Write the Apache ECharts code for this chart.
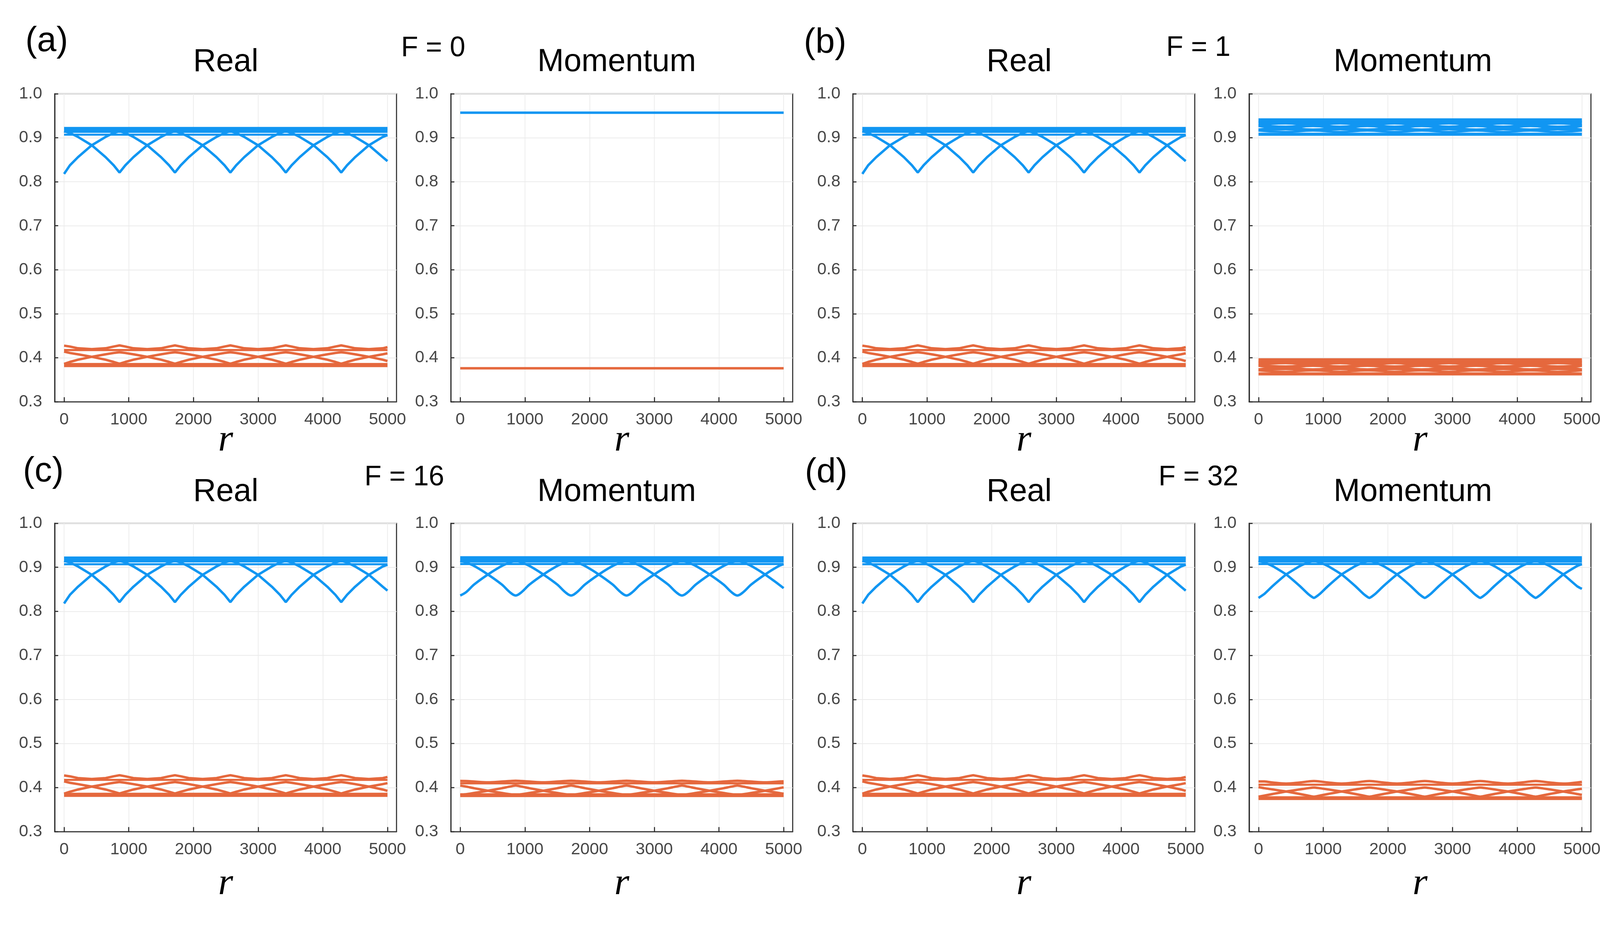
<!DOCTYPE html>
<html>
<head>
<meta charset="utf-8">
<script src="https://cdn.jsdelivr.net/npm/echarts@6.0.0/dist/echarts.min.js"></script>
<style>
html, body { margin: 0; padding: 0; background: #fff; overflow: hidden; }
#chart { width: 100vw; height: 100vh; }
</style>
</head>
<body>
<div id="chart"></div>
<script>
// shared x positions: zigzag curves (cusps every ~857), lens waves (every ~421)
var zigX = [0, 90, 215, 428, 642, 767, 857, 947, 1072, 1285, 1499, 1624, 1714, 1804, 1929, 2142, 2356, 2481, 2571,
    2661, 2786, 2999, 3213, 3338, 3428, 3518, 3643, 3856, 4070, 4195, 4285, 4375, 4500, 4713, 4927, 5000];
var waveX = [0, 421, 841, 1262, 1682, 2103, 2523, 2944, 3364, 3785, 4205, 4626, 5000];
var xTicks = [0, 1000, 2000, 3000, 4000, 5000];

// Real (same in all four cases)
var realBlueA = [0.818, 0.8375, 0.856, 0.883, 0.902, 0.911, 0.915,
    0.911, 0.902, 0.883, 0.856, 0.8375, 0.821,
    0.8375, 0.856, 0.883, 0.902, 0.911, 0.915,
    0.911, 0.902, 0.883, 0.856, 0.8375, 0.821,
    0.8375, 0.856, 0.883, 0.902, 0.911, 0.915,
    0.911, 0.902, 0.883, 0.856, 0.847];
var realBlueB = [0.915, 0.911, 0.902, 0.883, 0.856, 0.8375, 0.821,
    0.8375, 0.856, 0.883, 0.902, 0.911, 0.915,
    0.911, 0.902, 0.883, 0.856, 0.8375, 0.821,
    0.8375, 0.856, 0.883, 0.902, 0.911, 0.915,
    0.911, 0.902, 0.883, 0.856, 0.8375, 0.821,
    0.8375, 0.856, 0.883, 0.902, 0.906];
var realBlueFlat = [0.9215, 0.918, 0.9135, 0.907];
var realOrangeA = [0.414, 0.4108, 0.4078, 0.4022, 0.3955, 0.3905, 0.3865,
    0.3905, 0.3955, 0.4022, 0.4078, 0.4108, 0.4125,
    0.4108, 0.4078, 0.4022, 0.3955, 0.3905, 0.3865,
    0.3905, 0.3955, 0.4022, 0.4078, 0.4108, 0.4125,
    0.4108, 0.4078, 0.4022, 0.3955, 0.3905, 0.3865,
    0.3905, 0.3955, 0.4022, 0.4078, 0.410];
var realOrangeB = [0.386, 0.3905, 0.3955, 0.4022, 0.4078, 0.4108, 0.4125,
    0.4108, 0.4078, 0.4022, 0.3955, 0.3905, 0.3865,
    0.3905, 0.3955, 0.4022, 0.4078, 0.4108, 0.4125,
    0.4108, 0.4078, 0.4022, 0.3955, 0.3905, 0.3865,
    0.3905, 0.3955, 0.4022, 0.4078, 0.4108, 0.4125,
    0.4108, 0.4078, 0.4022, 0.3955, 0.3925];
var realOrangeArc = [0.4275, 0.4255, 0.4215, 0.4195, 0.4215, 0.4255, 0.428,
    0.4255, 0.4215, 0.4195, 0.4215, 0.4255, 0.428,
    0.4255, 0.4215, 0.4195, 0.4215, 0.4255, 0.428,
    0.4255, 0.4215, 0.4195, 0.4215, 0.4255, 0.428,
    0.4255, 0.4215, 0.4195, 0.4215, 0.4255, 0.428,
    0.4255, 0.4215, 0.4195, 0.4215, 0.424];
var realOrangeFlat = [0.4175, 0.3855, 0.3815];

// Momentum, F = 0
var momABlue = [0.957];
var momAOrange = [0.376];

// Momentum, F = 1 (waves on waveX)
var momBBlueFlat = [0.9402, 0.908];
var momBBlueWaves = [
    [0.9375, 0.9352, 0.9375, 0.9352, 0.9375, 0.9352, 0.9375, 0.9352, 0.9375, 0.9352, 0.9375, 0.9352, 0.9375],
    [0.9330, 0.9352, 0.9330, 0.9352, 0.9330, 0.9352, 0.9330, 0.9352, 0.9330, 0.9352, 0.9330, 0.9352, 0.9330],
    [0.9290, 0.9325, 0.9290, 0.9325, 0.9290, 0.9325, 0.9290, 0.9325, 0.9290, 0.9325, 0.9290, 0.9325, 0.9290],
    [0.9290, 0.9255, 0.9290, 0.9255, 0.9290, 0.9255, 0.9290, 0.9255, 0.9290, 0.9255, 0.9290, 0.9255, 0.9290],
    [0.9265, 0.9228, 0.9265, 0.9228, 0.9265, 0.9228, 0.9265, 0.9228, 0.9265, 0.9228, 0.9265, 0.9228, 0.9265],
    [0.9190, 0.9228, 0.9190, 0.9228, 0.9190, 0.9228, 0.9190, 0.9228, 0.9190, 0.9228, 0.9190, 0.9228, 0.9190],
    [0.9162, 0.9192, 0.9162, 0.9192, 0.9162, 0.9192, 0.9162, 0.9192, 0.9162, 0.9192, 0.9162, 0.9192, 0.9162],
    [0.9162, 0.9133, 0.9162, 0.9133, 0.9162, 0.9133, 0.9162, 0.9133, 0.9162, 0.9133, 0.9162, 0.9133, 0.9162]
];
var momBOrangeFlat = [0.3948, 0.3632];
var momBOrangeWaves = [
    [0.3915, 0.3895, 0.3915, 0.3895, 0.3915, 0.3895, 0.3915, 0.3895, 0.3915, 0.3895, 0.3915, 0.3895, 0.3915],
    [0.3875, 0.3895, 0.3875, 0.3895, 0.3875, 0.3895, 0.3875, 0.3895, 0.3875, 0.3895, 0.3875, 0.3895, 0.3875],
    [0.3840, 0.3875, 0.3840, 0.3875, 0.3840, 0.3875, 0.3840, 0.3875, 0.3840, 0.3875, 0.3840, 0.3875, 0.3840],
    [0.3840, 0.3805, 0.3840, 0.3805, 0.3840, 0.3805, 0.3840, 0.3805, 0.3840, 0.3805, 0.3840, 0.3805, 0.3840],
    [0.3815, 0.3777, 0.3815, 0.3777, 0.3815, 0.3777, 0.3815, 0.3777, 0.3815, 0.3777, 0.3815, 0.3777, 0.3815],
    [0.3738, 0.3777, 0.3738, 0.3777, 0.3738, 0.3777, 0.3738, 0.3777, 0.3738, 0.3777, 0.3738, 0.3777, 0.3738],
    [0.3710, 0.3740, 0.3710, 0.3740, 0.3710, 0.3740, 0.3710, 0.3740, 0.3710, 0.3740, 0.3710, 0.3740, 0.3710],
    [0.3710, 0.3682, 0.3710, 0.3682, 0.3710, 0.3682, 0.3710, 0.3682, 0.3710, 0.3682, 0.3710, 0.3682, 0.3710]
];

// Momentum, F = 16
var momCBlueA = [0.836, 0.8435, 0.861, 0.8837, 0.903, 0.911, 0.915,
    0.911, 0.903, 0.8837, 0.861, 0.8435, 0.836,
    0.8435, 0.861, 0.8837, 0.903, 0.911, 0.915,
    0.911, 0.903, 0.8837, 0.861, 0.8435, 0.836,
    0.8435, 0.861, 0.8837, 0.903, 0.911, 0.915,
    0.911, 0.903, 0.8837, 0.861, 0.8527];
var momCBlueB = [0.915, 0.911, 0.903, 0.8837, 0.861, 0.8435, 0.836,
    0.8435, 0.861, 0.8837, 0.903, 0.911, 0.915,
    0.911, 0.903, 0.8837, 0.861, 0.8435, 0.836,
    0.8435, 0.861, 0.8837, 0.903, 0.911, 0.915,
    0.911, 0.903, 0.8837, 0.861, 0.8435, 0.836,
    0.8435, 0.861, 0.8837, 0.903, 0.907];
var momCBlueFlat = [0.922, 0.918, 0.9133, 0.9075];
var momCOrangeA = [0.4045, 0.4022, 0.3985, 0.3928, 0.3877, 0.3848, 0.383,
    0.3848, 0.3877, 0.3928, 0.3985, 0.4022, 0.4045,
    0.4022, 0.3985, 0.3928, 0.3877, 0.3848, 0.383,
    0.3848, 0.3877, 0.3928, 0.3985, 0.4022, 0.4045,
    0.4022, 0.3985, 0.3928, 0.3877, 0.3848, 0.383,
    0.3848, 0.3877, 0.3928, 0.3985, 0.4005];
var momCOrangeB = [0.383, 0.3848, 0.3877, 0.3928, 0.3985, 0.4022, 0.4045,
    0.4022, 0.3985, 0.3928, 0.3877, 0.3848, 0.383,
    0.3848, 0.3877, 0.3928, 0.3985, 0.4022, 0.4045,
    0.4022, 0.3985, 0.3928, 0.3877, 0.3848, 0.383,
    0.3848, 0.3877, 0.3928, 0.3985, 0.4022, 0.4045,
    0.4022, 0.3985, 0.3928, 0.3877, 0.386];
var momCOrangeArc = [0.4150, 0.4148, 0.4136, 0.4118, 0.4136, 0.4148, 0.4154,
    0.4148, 0.4136, 0.4118, 0.4136, 0.4148, 0.4154,
    0.4148, 0.4136, 0.4118, 0.4136, 0.4148, 0.4154,
    0.4148, 0.4136, 0.4118, 0.4136, 0.4148, 0.4154,
    0.4148, 0.4136, 0.4118, 0.4136, 0.4148, 0.4154,
    0.4148, 0.4136, 0.4118, 0.4136, 0.4142];
var momCOrangeFlat = [0.4096, 0.3845, 0.381];

// Momentum, F = 32
var momDBlueA = [0.8305, 0.8395, 0.857, 0.8837, 0.903, 0.911, 0.915,
    0.911, 0.903, 0.8837, 0.857, 0.8395, 0.8305,
    0.8395, 0.857, 0.8837, 0.903, 0.911, 0.915,
    0.911, 0.903, 0.8837, 0.857, 0.8395, 0.8305,
    0.8395, 0.857, 0.8837, 0.903, 0.911, 0.915,
    0.911, 0.903, 0.8837, 0.857, 0.8512];
var momDBlueB = [0.915, 0.911, 0.903, 0.8837, 0.857, 0.8395, 0.8305,
    0.8395, 0.857, 0.8837, 0.903, 0.911, 0.915,
    0.911, 0.903, 0.8837, 0.857, 0.8395, 0.8305,
    0.8395, 0.857, 0.8837, 0.903, 0.911, 0.915,
    0.911, 0.903, 0.8837, 0.857, 0.8395, 0.8305,
    0.8395, 0.857, 0.8837, 0.903, 0.907];
var momDBlueFlat = [0.922, 0.918, 0.9133, 0.9075];
var momDOrangeA = [0.401, 0.3985, 0.3958, 0.3911, 0.3853, 0.3817, 0.3793,
    0.3817, 0.3853, 0.3911, 0.3958, 0.3985, 0.400,
    0.3985, 0.3958, 0.3911, 0.3853, 0.3817, 0.3793,
    0.3817, 0.3853, 0.3911, 0.3958, 0.3985, 0.400,
    0.3985, 0.3958, 0.3911, 0.3853, 0.3817, 0.3793,
    0.3817, 0.3853, 0.3911, 0.3958, 0.3972];
var momDOrangeB = [0.3793, 0.3817, 0.3853, 0.3911, 0.3958, 0.3985, 0.400,
    0.3985, 0.3958, 0.3911, 0.3853, 0.3817, 0.3793,
    0.3817, 0.3853, 0.3911, 0.3958, 0.3985, 0.400,
    0.3985, 0.3958, 0.3911, 0.3853, 0.3817, 0.3793,
    0.3817, 0.3853, 0.3911, 0.3958, 0.3985, 0.400,
    0.3985, 0.3958, 0.3911, 0.3853, 0.3835];
var momDOrangeArc = [0.4140, 0.4138, 0.4115, 0.409, 0.4115, 0.4138, 0.4148,
    0.4138, 0.4115, 0.409, 0.4115, 0.4138, 0.4148,
    0.4138, 0.4115, 0.409, 0.4115, 0.4138, 0.4148,
    0.4138, 0.4115, 0.409, 0.4115, 0.4138, 0.4148,
    0.4138, 0.4115, 0.409, 0.4115, 0.4138, 0.4148,
    0.4138, 0.4115, 0.409, 0.4115, 0.4128];
var momDOrangeFlat = [0.4065, 0.3775, 0.3745];

// labels
var panelTitles = ['Real', 'Momentum', 'Real', 'Momentum', 'Real', 'Momentum', 'Real', 'Momentum'];
var caseLetters = ['(a)', '(b)', '(c)', '(d)'];
var caseF = ['F = 0', 'F = 1', 'F = 16', 'F = 32'];

// layout, in pixels of the 4592 x 2367 reference; scaled to the real page size
var dom = document.getElementById('chart');
var kx = dom.clientWidth / 4592;
var ky = dom.clientHeight / 2367;
var k = Math.min(kx, ky);
function X(v) { return v * kx; }
function Y(v) { return v * ky; }
function S(v) { return v * k; }

var colLeft = [157, 1294, 2448, 3585];
var rowTop = [240, 1339];
var gridW = 981;
var gridH = [788, 789];
var rNameGap = [50, 85];
var titleX = [648, 1770, 2925, 4055];
var titleY = [160, 1260];
var letterPos = [[73, 106], [2307, 110], [66, 1207], [2310, 1210]];
var fPos = [[1151, 124], [3347, 123], [1046, 1222], [3325, 1222]];

var BLUE = '#1196f2';
var ORANGE = '#e5683d';
var AXIS = '#2b2b2b';
var LABEL = '#474747';
var SANS = '"Liberation Sans", Arial, sans-serif';

function pairs(xs, ys) {
    return xs.map(function (x, i) { return [x, ys[i]]; });
}
function flat(v) {
    return [[0, v], [5000, v]];
}

var series = [];
function addLine(p, data, color, width, smooth) {
    series.push({
        type: 'line',
        xAxisIndex: p,
        yAxisIndex: p,
        data: data,
        symbol: 'none',
        showSymbol: false,
        smooth: smooth || false,
        silent: true,
        lineStyle: {color: color, width: S(width)},
        itemStyle: {color: color}
    });
}

function addFlats(p, levels, color, topWidth, width) {
    levels.forEach(function (v, i) {
        addLine(p, flat(v), color, i === 0 ? topWidth : width);
    });
}

// Real panels
[0, 2, 4, 6].forEach(function (p) {
    addFlats(p, realBlueFlat, BLUE, 8, 6);
    addLine(p, pairs(zigX, realBlueA), BLUE, 7);
    addLine(p, pairs(zigX, realBlueB), BLUE, 7);
    addFlats(p, realOrangeFlat, ORANGE, 6, 7);
    addLine(p, pairs(zigX, realOrangeArc), ORANGE, 7);
    addLine(p, pairs(zigX, realOrangeA), ORANGE, 7);
    addLine(p, pairs(zigX, realOrangeB), ORANGE, 7);
});

// Momentum F = 0
addLine(1, flat(momABlue[0]), BLUE, 7);
addLine(1, flat(momAOrange[0]), ORANGE, 7);

// Momentum F = 1
addFlats(3, momBBlueFlat, BLUE, 10, 9);
momBBlueWaves.forEach(function (w) { addLine(3, pairs(waveX, w), BLUE, 6, 0.5); });
addFlats(3, momBOrangeFlat, ORANGE, 10, 9);
momBOrangeWaves.forEach(function (w) { addLine(3, pairs(waveX, w), ORANGE, 6, 0.5); });

// Momentum F = 16
addFlats(5, momCBlueFlat, BLUE, 8, 6);
addLine(5, pairs(zigX, momCBlueA), BLUE, 7, 0.35);
addLine(5, pairs(zigX, momCBlueB), BLUE, 7, 0.35);
addFlats(5, momCOrangeFlat, ORANGE, 6, 7);
addLine(5, pairs(zigX, momCOrangeArc), ORANGE, 7, 0.4);
addLine(5, pairs(zigX, momCOrangeA), ORANGE, 7, 0.3);
addLine(5, pairs(zigX, momCOrangeB), ORANGE, 7, 0.3);

// Momentum F = 32
addFlats(7, momDBlueFlat, BLUE, 8, 6);
addLine(7, pairs(zigX, momDBlueA), BLUE, 7, 0.15);
addLine(7, pairs(zigX, momDBlueB), BLUE, 7, 0.15);
addFlats(7, momDOrangeFlat, ORANGE, 6, 7);
addLine(7, pairs(zigX, momDOrangeArc), ORANGE, 7, 0.4);
addLine(7, pairs(zigX, momDOrangeA), ORANGE, 7, 0.3);
addLine(7, pairs(zigX, momDOrangeB), ORANGE, 7, 0.3);

var grids = [], xAxes = [], yAxes = [], texts = [];
for (var i = 0; i < 8; i++) {
    var row = Math.floor(i / 4), col = i % 4;
    grids.push({
        left: X(colLeft[col]), top: Y(rowTop[row]), width: X(gridW), height: Y(gridH[row]),
        show: true, borderColor: AXIS, borderWidth: S(3), outerBoundsMode: 'none'
    });
    xAxes.push({
        gridIndex: i,
        type: 'value',
        min: -145,
        max: 5140,
        name: 'r',
        nameLocation: 'middle',
        nameGap: Y(rNameGap[row]),
        nameMoveOverlap: false,
        nameTextStyle: {fontFamily: '"Liberation Serif", serif', fontStyle: 'italic', fontSize: S(110), color: '#000'},
        axisLine: {show: true, onZero: false, lineStyle: {color: AXIS, width: S(3)}},
        axisTick: {show: true, inside: true, length: S(13), customValues: xTicks, lineStyle: {color: AXIS, width: S(3)}},
        axisLabel: {
            customValues: xTicks, fontSize: S(48), fontFamily: SANS, color: LABEL, margin: S(28),
            formatter: function (v) { return String(v); }
        },
        splitLine: {show: true, lineStyle: {color: '#ebebeb', width: S(2)}}
    });
    yAxes.push({
        gridIndex: i,
        type: 'value',
        min: 0.3,
        max: 1.0,
        interval: 0.1,
        axisLine: {show: true, onZero: false, lineStyle: {color: AXIS, width: S(3)}},
        axisTick: {show: true, inside: true, length: S(10), lineStyle: {color: AXIS, width: S(3)}},
        axisLabel: {
            fontSize: S(48), fontFamily: SANS, color: LABEL, margin: S(36),
            formatter: function (v) { return v.toFixed(1); }
        },
        splitLine: {show: true, lineStyle: {color: '#ebebeb', width: S(2)}}
    });
    texts.push({
        type: 'text', x: X(titleX[col]), y: Y(titleY[row]), silent: true,
        style: {
            text: panelTitles[i], font: 'normal ' + S(91) + 'px ' + SANS, fill: '#000',
            align: 'center', verticalAlign: 'middle', textAlign: 'center', textVerticalAlign: 'middle'
        }
    });
}
for (var c = 0; c < 4; c++) {
    texts.push({
        type: 'text', x: X(letterPos[c][0]), y: Y(letterPos[c][1]), silent: true,
        style: {
            text: caseLetters[c], font: 'normal ' + S(100) + 'px ' + SANS, fill: '#000',
            align: 'left', verticalAlign: 'middle', textAlign: 'left', textVerticalAlign: 'middle'
        }
    });
    texts.push({
        type: 'text', x: X(fPos[c][0]), y: Y(fPos[c][1]), silent: true,
        style: {
            text: caseF[c], font: 'normal ' + S(80) + 'px ' + SANS, fill: '#000',
            align: 'left', verticalAlign: 'middle', textAlign: 'left', textVerticalAlign: 'middle'
        }
    });
}

var myChart = echarts.init(dom);
myChart.setOption({
    backgroundColor: '#fff',
    animation: false,
    grid: grids,
    xAxis: xAxes,
    yAxis: yAxes,
    graphic: {elements: texts},
    series: series
});
</script>
</body>
</html>
